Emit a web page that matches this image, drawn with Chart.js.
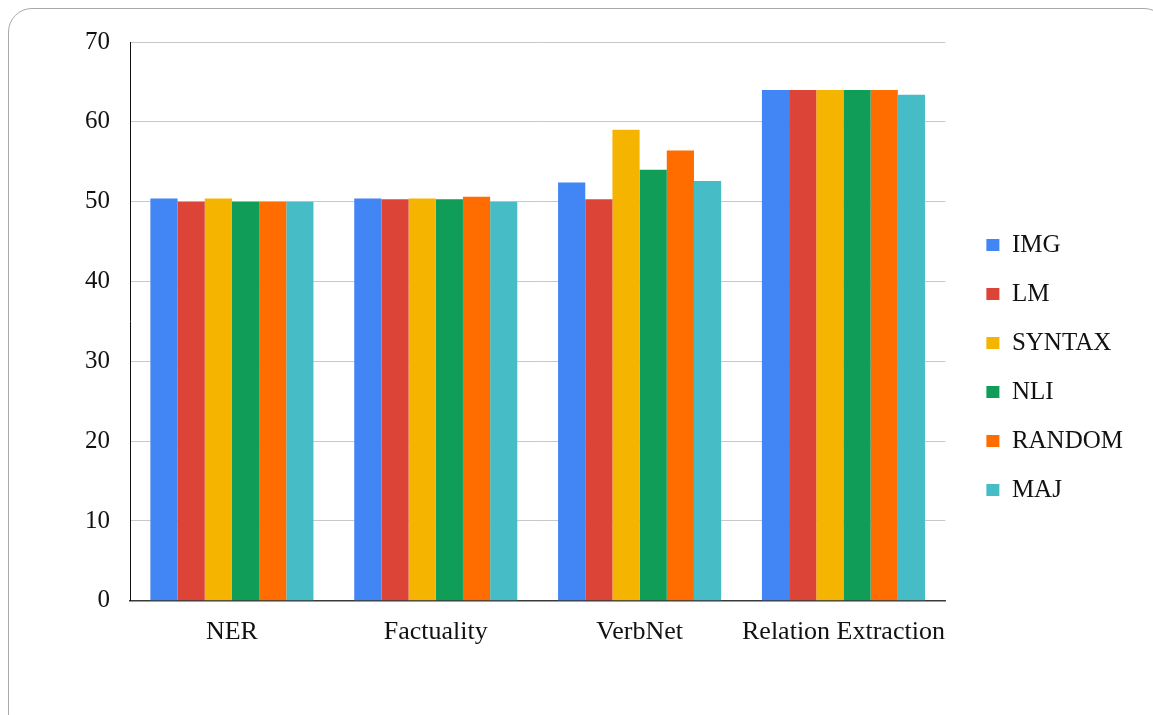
<!DOCTYPE html>
<html>
<head>
<meta charset="utf-8">
<script src="https://cdn.jsdelivr.net/npm/chart.js@4"></script>
<style>
  html, body { margin: 0; padding: 0; background: #fff; width: 1153px; height: 715px; overflow: hidden; }
  .card {
    position: absolute; left: 8px; top: 8px; width: 1160px; height: 730px;
    border: 1.5px solid #a9a9a9; border-radius: 24px; box-sizing: border-box;
  }
  .wrap { position: absolute; left: 0; top: 0; width: 1153px; height: 715px; }
  canvas { display: block; }
</style>
</head>
<body>
<div class="card"></div>
<div class="wrap"><canvas id="chart" width="1153" height="715"></canvas></div>
<script>
// Task categories on the x axis
const categories = ['NER', 'Factuality', 'VerbNet', 'Relation Extraction'];

// Scores per method, one value per category
const IMG    = [50.4, 50.4, 52.4, 64.0];
const LM     = [50.0, 50.3, 50.3, 64.0];
const SYNTAX = [50.4, 50.4, 59.0, 64.0];
const NLI    = [50.0, 50.3, 54.0, 64.0];
const RANDOM = [50.0, 50.6, 56.4, 64.0];
const MAJ    = [50.0, 50.0, 52.6, 63.4];

const yTicks = [0, 10, 20, 30, 40, 50, 60, 70];

const series = [
  { label: 'IMG',    data: IMG,    color: '#4285F4' },
  { label: 'LM',     data: LM,     color: '#DB4437' },
  { label: 'SYNTAX', data: SYNTAX, color: '#F4B400' },
  { label: 'NLI',    data: NLI,    color: '#0F9D58' },
  { label: 'RANDOM', data: RANDOM, color: '#FF6D01' },
  { label: 'MAJ',    data: MAJ,    color: '#46BDC6' }
];

const serif = '"Liberation Serif", "Times New Roman", serif';

new Chart(document.getElementById('chart'), {
  type: 'bar',
  data: {
    labels: categories,
    datasets: series.map(s => ({
      label: s.label,
      data: s.data,
      backgroundColor: s.color,
      borderWidth: 0,
      categoryPercentage: 0.8,
      barPercentage: 1.0
    }))
  },
  options: {
    responsive: false,
    animation: false,
    devicePixelRatio: 1,
    layout: { padding: { left: 65, right: 20, top: 42, bottom: 22 } },
    plugins: {
      tooltip: { enabled: false },
      legend: {
        position: 'right',
        align: 'center',
        labels: {
          font: { family: serif, size: 25 },
          color: '#111',
          boxWidth: 13,
          boxHeight: 12,
          padding: 24
        }
      }
    },
    scales: {
      x: {
        grid: { display: false, drawTicks: false },
        border: { display: true, color: '#3a3a3a', width: 1.5 },
        ticks: { font: { family: serif, size: 26 }, color: '#111', padding: 16, maxRotation: 0, autoSkip: false },
        // extra blank room under the category labels
        afterFit: s => { s.height += 29; }
      },
      y: {
        min: 0,
        max: 70,
        afterBuildTicks: axis => { axis.ticks = yTicks.map(v => ({ value: v })); },
        grid: { color: '#c8c8c8', lineWidth: 1, drawTicks: false },
        border: { display: true, color: '#111', width: 1 },
        ticks: { font: { family: serif, size: 25 }, color: '#111', padding: 20 }
      },
      // blank gutter between the plot and the legend
      gutter: {
        type: 'linear',
        position: 'right',
        display: true,
        grid: { display: false, drawTicks: false },
        border: { display: false },
        ticks: { display: false },
        afterFit: s => { s.width = 17; }
      }
    }
  }
});
</script>
</body>
</html>
